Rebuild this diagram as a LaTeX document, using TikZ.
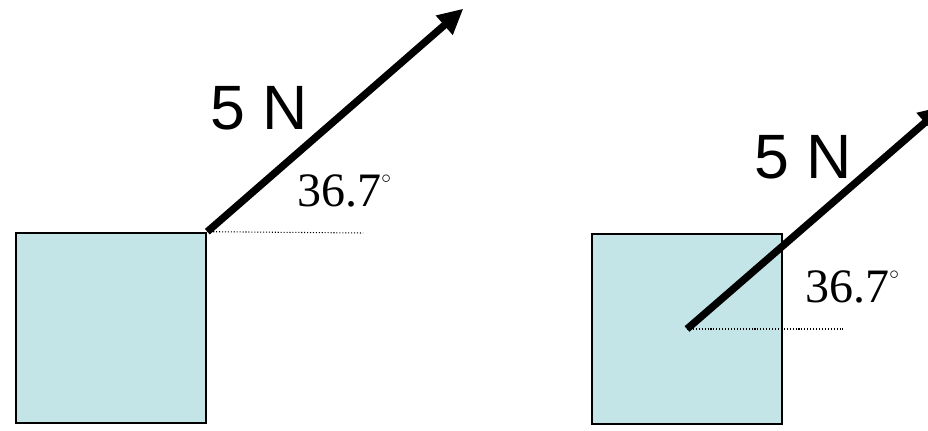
\documentclass[tikz,border=0pt]{standalone}
\usepackage{fontspec}
\setmainfont{Liberation Serif}
\newfontfamily\arialfont{Liberation Sans}
\usepackage{xcolor}
\usetikzlibrary{arrows.meta,calc}
\definecolor{blockfill}{RGB}{196,229,231}
\newcommand{\degmark}{\raisebox{17pt}{\fontsize{14}{14}\selectfont$\circ$}}

\begin{document}
\begin{tikzpicture}[x=0.75pt,y=-0.75pt,
 blk/.style={draw,line width=1.5pt,fill=blockfill,minimum size=143pt,inner sep=0pt},
 force/.style={-{Triangle[length=19pt,width=18pt]},line width=5.5pt},
 ref/.style={line width=0.8pt,dash pattern=on 0.8pt off 1.4pt},
 mag/.style={font=\arialfont\fontsize{47}{50}\selectfont,inner sep=0pt},
 ang/.style={font=\fontsize{36}{40}\selectfont,inner sep=0pt,anchor=base west}]
\useasboundingbox (0,0) rectangle (928,430);
\clip (0,0) rectangle (928,430);
\node[blk] (lbox) at (111,328) {};
\node[blk] (rbox) at (687,329) {};
\coordinate (ltip) at ($(lbox.north east)+(256,-223)$);
\coordinate (lref) at (363,233);
\coordinate (rtip) at (944,106);
\coordinate (rref) at (843,329);
\node[mag] (lmag) at (259,108) {5 N};
\node[mag] (rmag) at (803,157) {5 N};
\node[ang] (lang) at (297,206) {36.7\degmark};
\node[ang] (rang) at (805,302) {36.7\degmark};
\draw[ref] (lbox.north east) -- (lref);
\draw[ref] (rbox.center) -- (rref);
\draw[force] (lbox.north east) -- (ltip);
\draw[force] (rbox.center) -- (rtip);
\end{tikzpicture}
\end{document}
